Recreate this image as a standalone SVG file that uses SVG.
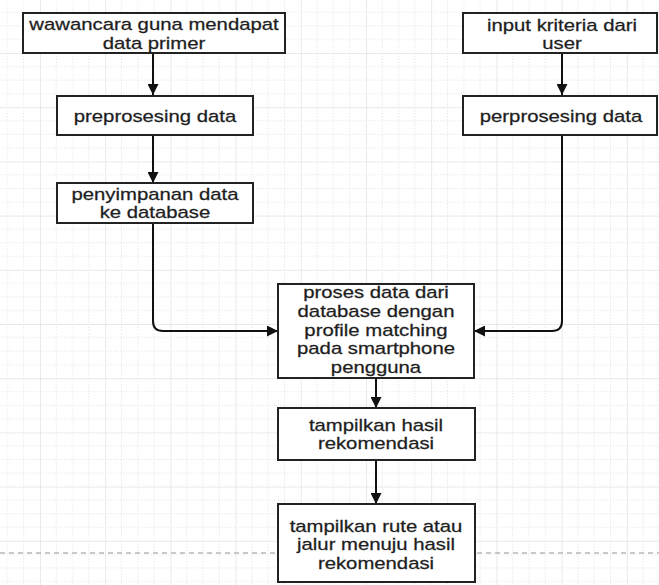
<svg xmlns="http://www.w3.org/2000/svg" width="659" height="585" viewBox="0 0 659 585">
<defs>
<style>
.box{fill:#fff;stroke:#222;stroke-width:2}
.t{font-family:"Liberation Sans",Arial,sans-serif;font-size:16px;fill:#1e1e1e;text-anchor:middle;stroke:#1e1e1e;stroke-width:0.25}
.c{fill:none;stroke:#111;stroke-width:2}
.major{stroke:#e2e2e2;stroke-width:1.5}
.minor{stroke:#dedede;stroke-width:1;stroke-dasharray:1 2}
</style>
<pattern id="grid" patternUnits="userSpaceOnUse" x="40" y="53" width="65.2" height="54.2">
<line class="minor" x1="16.3" y1="0" x2="16.3" y2="54.2"/>
<line class="minor" x1="32.6" y1="0" x2="32.6" y2="54.2"/>
<line class="minor" x1="48.9" y1="0" x2="48.9" y2="54.2"/>
<line class="minor" x1="0" y1="13.55" x2="65.2" y2="13.55"/>
<line class="minor" x1="0" y1="27.1" x2="65.2" y2="27.1"/>
<line class="minor" x1="0" y1="40.65" x2="65.2" y2="40.65"/>
<line class="major" x1="0" y1="0" x2="0" y2="54.2"/>
<line class="major" x1="0" y1="0" x2="65.2" y2="0"/>
</pattern>
<marker id="arr" viewBox="0 0 10 10" refX="10" refY="5" markerWidth="11" markerHeight="11" markerUnits="userSpaceOnUse" orient="auto">
<path d="M0,0 L10,5 L0,10 z" fill="#111"/>
</marker>
</defs>
<rect x="0" y="0" width="659" height="585" fill="#fff"/>
<rect x="0" y="0" width="659" height="585" fill="url(#grid)"/>
<line x1="0" y1="553" x2="659" y2="553" stroke="#b8b8b8" stroke-width="1.5" stroke-dasharray="5 4"/>

<g id="connectors">
<path class="c" d="M153,53 V95" marker-end="url(#arr)"/>
<path class="c" d="M153,135 V183" marker-end="url(#arr)"/>
<path class="c" d="M153,223 V321 Q153,331 163,331 H278" marker-end="url(#arr)"/>
<path class="c" d="M562,53 V95" marker-end="url(#arr)"/>
<path class="c" d="M562,135 V321 Q562,331 552,331 H474" marker-end="url(#arr)"/>
<path class="c" d="M376,378 V408" marker-end="url(#arr)"/>
<path class="c" d="M376,460 V504" marker-end="url(#arr)"/>
</g>

<g id="n1">
<rect class="box" x="23" y="13" width="262" height="40"/>
<text class="t" transform="translate(154,30) scale(1.27,1)"><tspan x="0">wawancara guna mendapat</tspan><tspan x="0" dy="19">data primer</tspan></text>
</g>
<g id="n2">
<rect class="box" x="57" y="96" width="196" height="39"/>
<text class="t" transform="translate(155,121.5) scale(1.27,1)">preprosesing data</text>
</g>
<g id="n3">
<rect class="box" x="57" y="183" width="196" height="40"/>
<text class="t" transform="translate(155,199.5) scale(1.27,1)"><tspan x="0">penyimpanan data</tspan><tspan x="0" dy="18.5">ke database</tspan></text>
</g>
<g id="n4">
<rect class="box" x="463" y="13" width="194" height="40"/>
<text class="t" transform="translate(562,30.5) scale(1.27,1)"><tspan x="0">input kriteria dari</tspan><tspan x="0" dy="19">user</tspan></text>
</g>
<g id="n5">
<rect class="box" x="463" y="96" width="194" height="39"/>
<text class="t" transform="translate(561,121.5) scale(1.27,1)">perprosesing data</text>
</g>
<g id="n6">
<rect class="box" x="278" y="284" width="196" height="94"/>
<text class="t" transform="translate(376,298) scale(1.27,1)"><tspan x="0">proses data dari</tspan><tspan x="0" dy="18.8">database dengan</tspan><tspan x="0" dy="18.8">profile matching</tspan><tspan x="0" dy="18.8">pada smartphone</tspan><tspan x="0" dy="18.8">pengguna</tspan></text>
</g>
<g id="n7">
<rect class="box" x="278" y="408" width="197" height="52"/>
<text class="t" transform="translate(376,430.5) scale(1.27,1)"><tspan x="0">tampilkan hasil</tspan><tspan x="0" dy="19">rekomendasi</tspan></text>
</g>
<g id="n8">
<rect class="box" x="278" y="504" width="197" height="78"/>
<text class="t" transform="translate(376,532) scale(1.27,1)"><tspan x="0">tampilkan rute atau</tspan><tspan x="0" dy="18.3">jalur menuju hasil</tspan><tspan x="0" dy="18.3">rekomendasi</tspan></text>
</g>
</svg>
